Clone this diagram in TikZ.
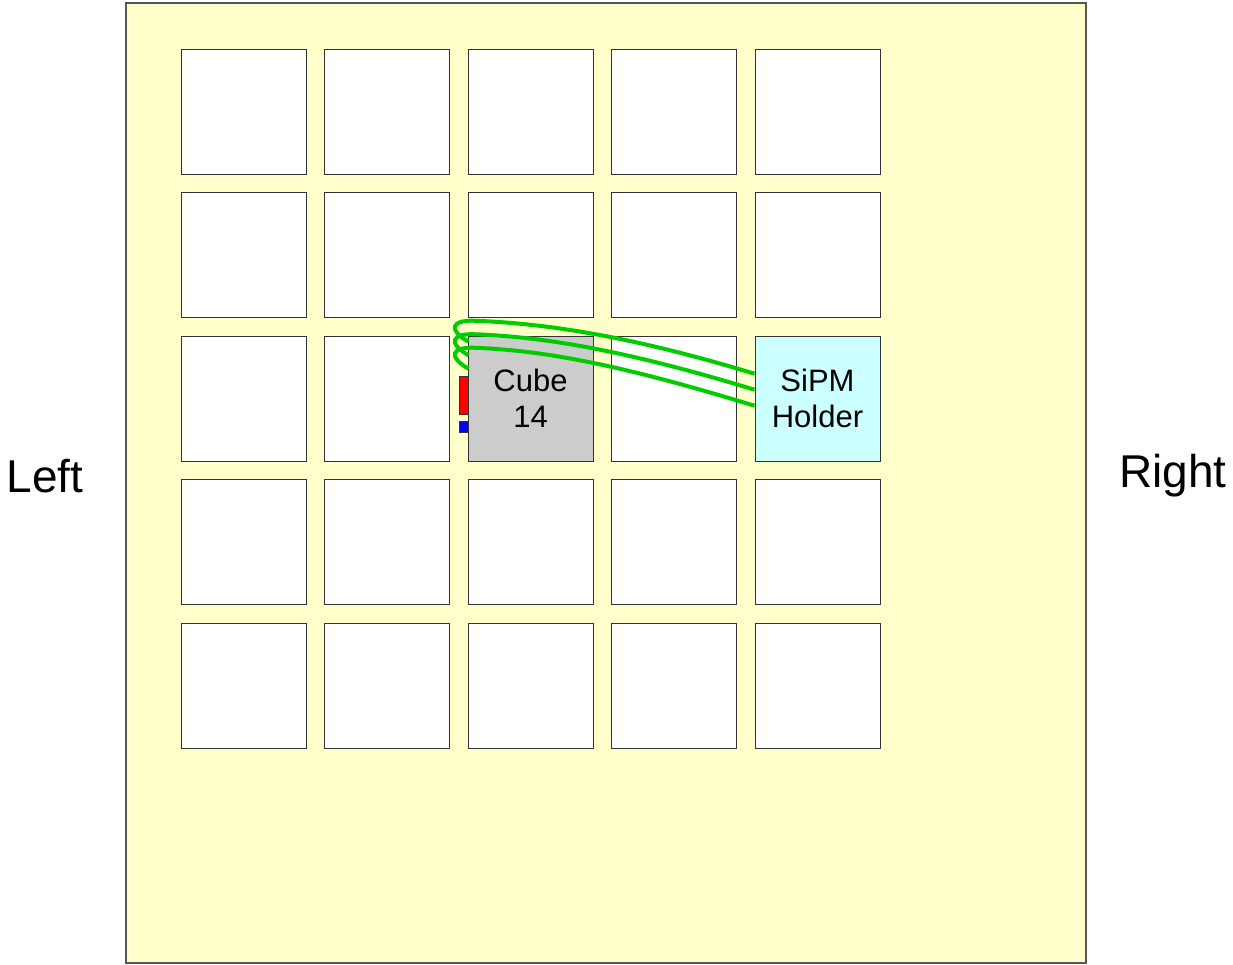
\documentclass[tikz,border=0pt]{standalone}
\usepackage{fontspec}
\setmainfont{Liberation Sans}
\usetikzlibrary{positioning,calc}
\definecolor{panelyellow}{HTML}{FFFFCC}
\definecolor{cubegray}{HTML}{CCCCCC}
\definecolor{holdercyan}{HTML}{CCFFFF}
\definecolor{fibergreen}{HTML}{00CC00}
\definecolor{edgegray}{HTML}{555555}

\begin{document}
\begin{tikzpicture}[x=1pt,y=-1pt,
  font=\fontsize{31}{36}\selectfont,
  panel/.style={draw=edgegray, line width=1.2pt, fill=panelyellow, minimum width=960pt, minimum height=960pt, inner sep=0pt},
  cubebox/.style={draw=black!80, line width=0.9pt, fill=white, minimum size=125pt, inner sep=0pt, align=center},
  chip/.style={draw=black!80, line width=0.6pt, minimum width=9pt, inner sep=0pt},
  fiber/.style={draw=fibergreen, line width=4pt},
  side/.style={font=\fontsize{46}{50}\selectfont}]
\useasboundingbox (0,0) rectangle (1233,964);
\node[panel] (panel) at (606,483) {};
% 5x5 grid of cubes
\foreach \r in {0,...,4}
  \foreach \c in {0,...,4}
    \node[cubebox] (c\r\c) at ({243.5+143.5*\c},{111.5+143.6*\r}) {};
\node[cubebox, fill=cubegray] (cube) at (c22) {Cube\\14};
\node[cubebox, fill=holdercyan] (holder) at (c24) {SiPM\\Holder};
\node[chip, fill=red, minimum height=38pt] (led) at (463.5,395) {};
\node[chip, fill=blue, minimum height=11pt] (pd) at (463.5,426.5) {};
% fibres from cube to holder
\foreach \k in {0,1,2}
  \draw[fiber] ($(cube.north west)+(1,6+13.5*\k)$)
    .. controls +(-21,-12) and +(-23,-1) .. ($(cube.north west)+(7,-15+13.5*\k)$)
    .. controls +(85,3) and +(-105,-32) .. ($(holder.north west)+(0,38+16*\k)$);
\node[side] (left) at (45,476) {Left};
\node[side] (right) at (1173,476) {Right};
\end{tikzpicture}
\end{document}
